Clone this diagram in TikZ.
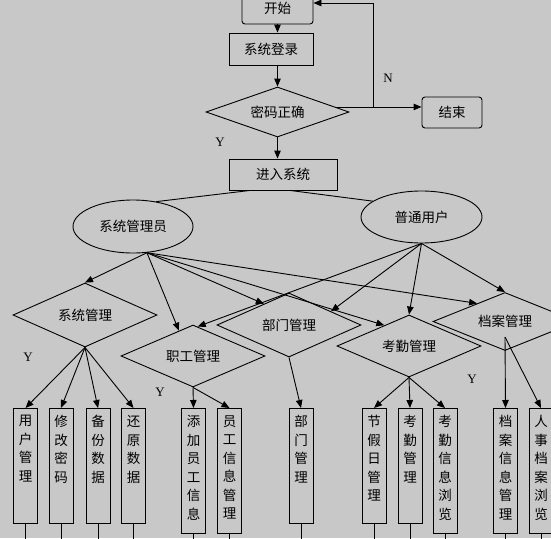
\documentclass[tikz,border=0pt]{standalone}
\usepackage{fontspec}
\setmainfont{Noto Sans CJK SC}
\newfontfamily\yesno{Liberation Serif}
\usepackage{xcolor}
\usepackage{tikz}
\usetikzlibrary{arrows.meta,shapes.geometric}
\XeTeXlinebreaklocale "zh"
\XeTeXlinebreakskip=0pt plus 1pt
\definecolor{bggray}{RGB}{200,200,200}
\tikzset{
  flow/.style={-{Triangle[length=8pt,width=6.5pt]}, line width=0.9pt, draw=black},
  link/.style={line width=0.9pt, draw=black}
}

\begin{document}
\begin{tikzpicture}[
  x=1pt, y=-1pt, font=\fontsize{13.5pt}{18.5pt}\selectfont,
  stepbox/.style={draw=black, line width=0.9pt, inner sep=0pt, minimum height=31pt},
  endbox/.style={stepbox, rounded corners=3pt},
  rolenode/.style={ellipse, draw=black, line width=0.9pt, inner sep=0pt, minimum width=120pt, minimum height=53pt},
  choice/.style={diamond, draw=black, line width=0.9pt, aspect=2.25, inner sep=0pt, minimum width=144pt, minimum height=64pt},
  leaf/.style={draw=black, line width=0.9pt, inner sep=0pt, minimum width=24pt, anchor=north,
    execute at begin node={\begin{minipage}[c][#1][t]{14pt}\centering\vspace*{7pt}},
    execute at end node={\end{minipage}}},
  leaf/.default=115pt,
  yn/.style={font=\yesno\fontsize{13pt}{15pt}\selectfont, inner sep=0pt}
]
\useasboundingbox (0,0) rectangle (551,538);
\fill[bggray] (0,0) rectangle (551,538);
\clip (0,0) rectangle (551,538);

% login chain
\node[endbox, minimum width=71pt, minimum height=32pt] (start) at (277.5,8) {开始};
\node[stepbox, minimum width=84pt, minimum height=32pt] (login) at (271,49) {系统登录};
\node[choice, minimum width=143pt, minimum height=50pt, aspect=2.86] (check) at (277.5,112) {密码正确};
\node[endbox, minimum width=60pt] (finish) at (452,112.5) {结束};
\node[stepbox, minimum width=108pt] (enter) at (283,174.5) {进入系统};
\coordinate (nturn) at (373,107);

% the two kinds of user
\node[rolenode] (admin) at (133,226.5) {系统管理员};
\node[rolenode, minimum width=121pt, minimum height=52pt] (user) at (421.5,217) {普通用户};

% module decisions
\node[choice] (sysmgr) at (85,315) {系统管理};
\node[choice, minimum height=62pt] (staffmgr) at (193,356) {职工管理};
\node[choice] (deptmgr) at (289,325) {部门管理};
\node[choice, minimum height=62pt] (attmgr) at (409,346) {考勤管理};
\node[choice, minimum height=58pt] (filemgr) at (505,321.5) {档案管理};
\coordinate (filefork) at (505,337);

% leaf functions
\node[leaf] (usermgr) at (25.5,408) {用户管理};
\node[leaf] (pwdchg) at (61,408) {修改密码};
\node[leaf] (backup) at (98,408) {备份数据};
\node[leaf] (restore) at (133.5,408) {还原数据};
\node[leaf=125pt] (addstaff) at (193.5,408) {添加员工信息};
\node[leaf=125pt] (staffinfo) at (229.5,408) {员工信息管理};
\node[leaf] (dept) at (301,408) {部门管理};
\node[leaf] (holiday) at (374,408) {节假日管理};
\node[leaf] (attend) at (410,408) {考勤管理};
\node[leaf=125pt] (attview) at (445,408) {考勤信息浏览};
\node[leaf=125pt] (fileinfo) at (505.5,408) {档案信息管理};
\node[leaf=125pt] (fileview) at (541,408) {人事档案浏览};
\coordinate (bottom) at (0,545);

% Y / N marks
\node[yn] (nmark) at (388,78) {N};
\node[yn] (ycheck) at (220,142) {Y};
\node[yn] (ysys) at (28,357) {Y};
\node[yn] (ystaff) at (160,392) {Y};
\node[yn] (yfile) at (472,379) {Y};

% main arrows
\draw[flow] (start) -- (start |- login.north);
\draw[flow] (check.north |- login.south) -- (check.north);
\draw[flow] (check.5) -- (check.5 -| finish.west);
\draw[flow] (nturn) |- ([yshift=5pt]start.east);
\draw[flow] (check.south) -- (check.south |- enter.north);
\draw[link] ([xshift=-33pt]enter.south) -- (admin.47);
\draw[link] ([xshift=7pt]enter.south) -- (user.162);

% users to modules
\draw[flow] (admin.-62) -- (sysmgr.north);
\draw[flow] (admin.-62) -- (staffmgr.119);
\draw[flow] (admin.-62) -- (deptmgr.140);
\draw[flow] (admin.-62) -- (attmgr.140);
\draw[flow] (admin.-62) -- (filemgr.147);
\draw[flow] (user.south) -- (staffmgr.81);
\draw[flow] (user.south) -- (deptmgr.18);
\draw[flow] (user.south) -- (attmgr.north);
\draw[flow] (user.south) -- (filemgr.north);

% modules to functions
\draw[flow] (sysmgr.south) -- (usermgr.north);
\draw[flow] (sysmgr.south) -- (pwdchg.north);
\draw[flow] (sysmgr.south) -- (backup.north);
\draw[flow] (sysmgr.south) -- (restore.north);
\draw[flow] (staffmgr.south) -- (addstaff.north);
\draw[flow] (staffmgr.south) -- (staffinfo.north);
\draw[flow] (deptmgr.south) -- (dept.north);
\draw[flow] (attmgr.south) -- (holiday.north);
\draw[flow] (attmgr.south) -- (attend.north);
\draw[flow] (attmgr.south) -- (attview.north);
\draw[flow] (filefork) -- (fileinfo.north);
\draw[flow] (filefork) -- (fileview.north);

% lines leaving the bottom edge
\draw[link] (usermgr.south) -- (usermgr.south |- bottom);
\draw[link] (pwdchg.south) -- (pwdchg.south |- bottom);
\draw[link] (backup.south) -- (backup.south |- bottom);
\draw[link] (restore.south) -- (restore.south |- bottom);
\draw[link] (addstaff.south) -- (addstaff.south |- bottom);
\draw[link] (staffinfo.south) -- (staffinfo.south |- bottom);
\draw[link] (dept.south) -- (dept.south |- bottom);
\draw[link] (holiday.south) -- (holiday.south |- bottom);
\draw[link] (attend.south) -- (attend.south |- bottom);
\draw[link] (attview.south) -- (attview.south |- bottom);
\draw[link] (fileinfo.south) -- (fileinfo.south |- bottom);
\draw[link] (fileview.south) -- (fileview.south |- bottom);

\end{tikzpicture}
\end{document}
